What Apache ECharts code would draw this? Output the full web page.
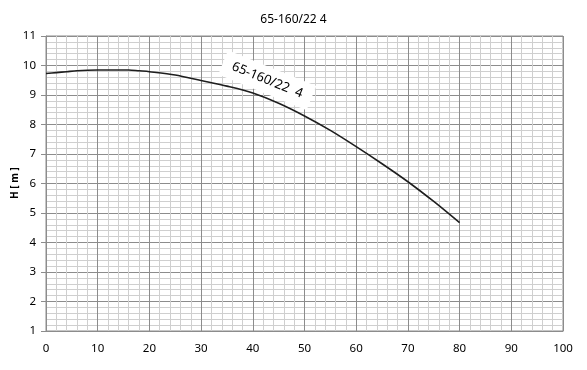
<!DOCTYPE html>
<html>
<head>
<meta charset="utf-8">
<script src="https://cdn.jsdelivr.net/npm/echarts@6/dist/echarts.min.js"></script>
<style>
html,body{margin:0;padding:0;background:#fff;}
#c{width:587px;height:370px;}
</style>
</head>
<body>
<div id="c"></div>
<script>
var titleText = "65-160/22 4";
var curveLabel = "65-160/22  4";
var yAxisTitle = "H [ m ]";
var flowQ = [0, 2, 4, 6, 8, 10, 12, 14, 16, 18, 20, 25, 30, 35, 40, 45, 50, 55, 60, 65, 70, 75, 80];
var headH = [9.73, 9.76, 9.79, 9.82, 9.84, 9.85, 9.85, 9.85, 9.85, 9.82, 9.79, 9.68, 9.49, 9.30, 9.07, 8.72, 8.29, 7.80, 7.25, 6.67, 6.06, 5.39, 4.67];
var labelAt = [42.8, 9.5];

var data = flowQ.map(function (q, i) { return [q, headH[i]]; });
var font = "Noto Sans";
var chart = echarts.init(document.getElementById('c'));
chart.setOption({
  animation: false,
  backgroundColor: '#ffffff',
  title: {
    text: titleText, left: 'center', top: 9,
    textStyle: {fontFamily: font, fontSize: 12, fontWeight: 'normal', color: '#000'}
  },
  graphic: [{
    type: 'text', x: 15, y: 183, rotation: Math.PI / 2,
    style: {text: yAxisTitle, fontFamily: font, fontSize: 10, fontWeight: 'bold', fill: '#000', align: 'center', verticalAlign: 'middle'}
  }],
  grid: {left: 46, right: 24, top: 36, bottom: 39, show: true, borderColor: '#8c8c8c', borderWidth: 1, outerBoundsMode: 'none', containLabel: false},
  xAxis: {
    type: 'value', min: 0, max: 100, interval: 10,
    axisLine: {show: true, lineStyle: {color: '#8c8c8c'}},
    axisTick: {show: false},
    axisLabel: {fontFamily: font, fontSize: 11.5, color: '#000', margin: 12},
    splitLine: {show: true, lineStyle: {color: '#8c8c8c', width: 1}},
    minorTick: {show: false, splitNumber: 5},
    minorSplitLine: {show: true, lineStyle: {color: '#cfcfcf', width: 1}}
  },
  yAxis: {
    type: 'value', min: 1, max: 11, interval: 1,
    axisLine: {show: true, lineStyle: {color: '#8c8c8c'}},
    axisTick: {show: true, length: 5, lineStyle: {color: '#8c8c8c'}},
    axisLabel: {fontFamily: font, fontSize: 11.5, color: '#000', margin: 10},
    splitLine: {show: true, lineStyle: {color: '#8c8c8c', width: 1}},
    minorTick: {show: false, splitNumber: 5},
    minorSplitLine: {show: true, lineStyle: {color: '#cfcfcf', width: 1}}
  },
  series: [{
    type: 'line', data: data, showSymbol: false, smooth: 0.3,
    lineStyle: {color: '#1e1e1e', width: 1.6}, z: 3,
    markPoint: {
      symbol: 'circle', symbolSize: 0, z: 2,
      data: [{coord: labelAt}],
      label: {
        show: true, formatter: curveLabel, position: 'inside', rotate: -22,
        fontFamily: font, fontSize: 13, color: '#000',
        backgroundColor: '#ffffff', padding: [8, 10, 5, 10]
      }
    }
  }]
});
</script>
</body>
</html>
